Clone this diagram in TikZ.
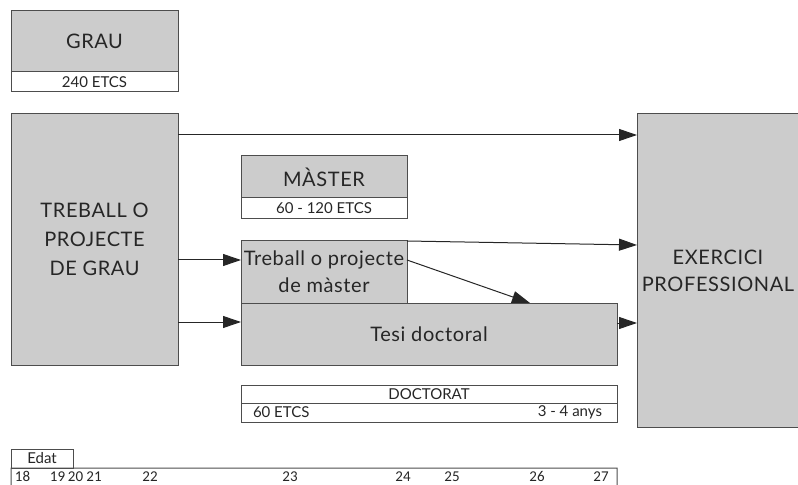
\documentclass[tikz,border=0pt]{standalone}
\usepackage{fontspec}
\setmainfont{Lato}
\newfontfamily\bigfam[LetterSpace=3]{Lato}
\newfontfamily\numfam{Carlito}
\usetikzlibrary{arrows.meta}
\definecolor{boxfill}{HTML}{CCCCCC}
\definecolor{boxline}{HTML}{4D4D4D}
\newcommand{\bigtext}{\bigfam\fontsize{20bp}{29bp}\selectfont}
\newcommand{\bigtextb}{\bigfam\fontsize{20bp}{27bp}\selectfont}
\newcommand{\smalltext}{\fontsize{15bp}{18bp}\selectfont}
\newcommand{\numtext}{\numfam\fontsize{15bp}{18bp}\selectfont}
\tikzset{
  box/.style={draw=boxline, line width=1bp, fill=boxfill, inner sep=0pt, outer sep=0pt,
    anchor=north west, align=center, font=\bigtext, text=black!85},
  wbox/.style={draw=boxline, line width=1bp, fill=white, inner sep=0pt, outer sep=0pt,
    anchor=north west, align=center, font=\smalltext, text=black!85},
  lbl/.style={inner sep=0pt, outer sep=0pt, font=\smalltext, text=black!85},
  num/.style={inner sep=0pt, outer sep=0pt, font=\numtext, text=black!85},
  arr/.style={draw=black!85, line width=1bp, -{Triangle[length=18bp,width=12bp]}},
  axisline/.style={draw=boxline, line width=1bp},
}
\begin{document}
\begin{tikzpicture}[x=1bp,y=-1bp]
\useasboundingbox (0,0) rectangle (798,485);
\begin{scope}
\clip (0,0) rectangle (798,485);
% GRAU
\node[box, minimum width=167bp, minimum height=61bp] (grau) at (11,11) {GRAU};
\node[wbox, minimum width=167bp, minimum height=20bp] (grauE) at (11,72) {240 ETCS};
% Treball o projecte de grau
\node[box, minimum width=167bp, minimum height=251bp] (tg) at (11,114) {TREBALL O\\PROJECTE\\DE GRAU};
% Master
\node[box, minimum width=166bp, minimum height=42bp] (mas) at (241,156) {MÀSTER};
\node[wbox, minimum width=166bp, minimum height=21bp] (masE) at (241,198) {60 - 120 ETCS};
\node[box, minimum width=166bp, minimum height=62bp, font=\bigtextb] (tm) at (241,241) {Treball o projecte\\de màster};
\node[box, minimum width=376bp, minimum height=62bp] (td) at (241,303) {Tesi doctoral};
% Exercici
\node[box, minimum width=162bp, minimum height=313bp, font=\bigtextb] (ex) at (637,114) {EXERCICI\\PROFESSIONAL};
% Doctorat
\node[wbox, minimum width=376bp, minimum height=18bp] (doc) at (241,385) {DOCTORAT};
\node[wbox, minimum width=376bp, minimum height=19bp] (docE) at (241,403) {};
\node[lbl, anchor=west] (docC) at ([xshift=12bp]docE.west) {60 ETCS};
\node[lbl, anchor=east] (docY) at ([xshift=-15bp]docE.east) {3 - 4 anys};
% Edat axis
\node[wbox, minimum width=62bp, minimum height=19bp] (edat) at (11,449) {Edat};
\draw[axisline] (edat.south west) ++(0,20) coordinate (axL) -- (edat.south west) -- (617,468) coordinate (axR) -- ++(0,20);
\foreach \n/\x in {18/22.5,19/57.5,20/75.5,21/94,22/150,23/290,24/403,25/452,26/537,27/601}{
  \node[num, anchor=base] (age\n) at (\x,481) {\n};
}
% Arrows
\draw[arr] (tg.east |- 0,135) -- (ex.west |- 0,135);
\draw[arr] (tg.east |- 0,260) -- (tm.west |- 0,260);
\draw[arr] (tg.east |- 0,322) -- (td.west |- 0,322);
\draw[arr] (tm.north east) -- (ex.west |- 0,245);
\draw[arr] (tm.east |- 0,260) -- (td.north -| 530,0);
\draw[arr] (td.east |- 0,323) -- (ex.west |- 0,323);
\end{scope}
\end{tikzpicture}
\end{document}
